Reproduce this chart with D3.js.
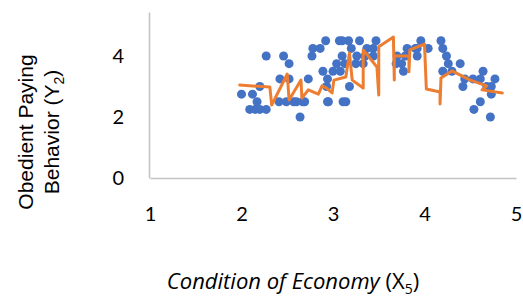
<!DOCTYPE html>
<html>
<head>
<meta charset="utf-8">
<script src="https://cdn.jsdelivr.net/npm/d3@7"></script>
<style>
  html, body { margin: 0; padding: 0; background: #fff; }
  svg { display: block; }
</style>
</head>
<body>
<div id="chart"></div>
<script>
// observed points: Condition of Economy (X5) vs Obedient Paying Behavior (Y2)
const obsX = [2.00, 2.12, 2.20, 2.17, 2.09, 2.15, 2.20, 2.27, 2.27, 2.46, 2.52, 2.42, 2.52, 2.41, 2.49,
              2.57, 2.69, 2.64, 2.73, 2.78, 2.86, 2.92, 2.77, 2.89, 2.94, 2.94, 3.00, 3.04, 2.93, 3.07,
              3.10, 3.17, 3.29, 3.47, 3.20, 3.37, 3.44, 3.10, 3.26, 3.35, 3.13, 3.25, 3.33, 3.08, 3.11,
              3.14, 3.18, 3.96, 4.18, 3.81, 3.90, 4.04, 4.20, 3.70, 3.79, 3.92, 4.24, 3.69, 3.75, 4.26,
              4.39, 3.77, 4.20, 4.30, 4.44, 4.53, 4.64, 4.61, 4.77, 4.68, 4.73, 4.42, 4.73, 4.61, 4.54,
              4.72, 2.60, 2.67, 2.95, 3.44, 3.92];
const obsY = [2.75, 2.75, 3.00, 2.50, 2.25, 2.25, 2.25, 2.25, 4.00, 4.00, 3.75, 3.25, 3.25, 2.50, 2.50,
              2.50, 2.50, 2.00, 3.25, 4.25, 4.25, 4.50, 4.00, 3.50, 3.25, 2.50, 3.50, 3.75, 3.00, 4.50,
              4.50, 4.50, 4.50, 4.50, 4.25, 4.25, 4.25, 4.00, 4.00, 4.00, 3.75, 3.75, 3.75, 3.50, 2.50,
              2.50, 3.00, 4.50, 4.50, 4.25, 4.25, 4.25, 4.25, 4.00, 4.00, 4.00, 4.00, 3.75, 3.75, 3.75,
              3.75, 3.50, 3.50, 3.50, 3.25, 3.25, 3.50, 3.25, 3.25, 3.00, 3.00, 3.00, 2.75, 2.50, 2.25,
              2.00, 2.50, 2.50, 2.50, 4.00, 4.25];

// fitted values, in data order
const fitX = [1.98, 2.31, 2.33, 2.50, 2.52, 2.65, 2.66, 2.73, 2.84, 2.88, 2.93, 2.99, 3.01, 3.14, 3.18,
              3.21, 3.33, 3.33, 3.48, 3.50, 3.50, 3.66, 3.67, 3.67, 3.83, 3.83, 3.84, 4.00, 4.02, 4.17,
              4.17, 4.18, 4.30, 4.50, 4.68, 4.63, 4.85];
const fitY = [3.05, 2.98, 2.39, 3.41, 2.56, 3.21, 2.62, 2.89, 2.75, 3.02, 2.95, 2.79, 3.21, 3.31, 4.10,
              3.21, 2.95, 4.20, 3.64, 2.72, 4.30, 4.62, 3.21, 4.00, 4.00, 3.48, 4.20, 4.39, 2.92, 2.82,
              2.43, 3.28, 3.51, 3.21, 3.02, 2.89, 2.79];

const xTicks = [1, 2, 3, 4, 5];
const yTicks = [0, 2, 4];

const width = 523;
const height = 297;
const font = 'Lato, "Open Sans", sans-serif';

const svg = d3.select('#chart')
    .append('svg')
    .attr('width', width)
    .attr('height', height);

const x = d3.scaleLinear().domain([1, 5]).range([150, 516]);
const y = d3.scaleLinear().domain([0, 5.443]).range([178, 12]);

// axes
const xAxis = svg.append('g')
    .attr('transform', `translate(0, ${y(0)})`)
    .call(d3.axisBottom(x).tickValues(xTicks).tickSize(0).tickPadding(29).tickFormat(d3.format('d')));

const yAxis = svg.append('g')
    .attr('transform', `translate(${x(1) - 1}, 0)`)
    .call(d3.axisLeft(y).tickValues(yTicks).tickSize(0).tickPadding(25).tickFormat(d3.format('d')));

[xAxis, yAxis].forEach(g => {
    g.select('.domain')
        .attr('stroke', '#C4C4C4')
        .attr('stroke-width', 1.6);
    g.selectAll('text')
        .attr('fill', '#000')
        .style('font-family', font)
        .style('font-size', '20px');
});

// observed scatter
svg.append('g')
    .selectAll('circle')
    .data(obsX.map((v, i) => [v, obsY[i]]))
    .enter()
    .append('circle')
    .attr('cx', d => x(d[0]))
    .attr('cy', d => y(d[1]))
    .attr('r', 4.5)
    .attr('fill', '#4472C4');

// fitted line
const line = d3.line()
    .x(d => x(d[0]))
    .y(d => y(d[1]));

svg.append('path')
    .datum(fitX.map((v, i) => [v, fitY[i]]))
    .attr('d', line)
    .attr('fill', 'none')
    .attr('stroke', '#ED7D31')
    .attr('stroke-width', 3)
    .attr('stroke-linejoin', 'round')
    .attr('stroke-linecap', 'round');

// y axis title (two lines)
const yTitle = svg.append('text')
    .attr('transform', 'translate(0, 132) rotate(-90)')
    .attr('text-anchor', 'middle')
    .style('font-family', '"Liberation Sans", Arial, sans-serif')
    .style('font-size', '21px')
    .attr('fill', '#000');

yTitle.append('tspan')
    .attr('x', 0)
    .attr('y', 33)
    .text('Obedient Paying');

const line2 = yTitle.append('tspan')
    .attr('x', 0)
    .attr('y', 59)
    .text('Behavior (Y');
line2.append('tspan')
    .attr('dy', 5)
    .style('font-size', '14px')
    .text('2');
line2.append('tspan')
    .attr('dy', -5)
    .text(')');

// x axis title
const xTitle = svg.append('text')
    .attr('x', 293)
    .attr('y', 289)
    .attr('text-anchor', 'middle')
    .style('font-family', '"Open Sans", Lato, sans-serif')
    .style('font-size', '22px')
    .attr('fill', '#000');

xTitle.append('tspan')
    .style('font-style', 'italic')
    .text('Condition of Economy');
xTitle.append('tspan').text(' (X');
xTitle.append('tspan')
    .attr('dy', 5)
    .style('font-size', '14px')
    .text('5');
xTitle.append('tspan')
    .attr('dy', -5)
    .text(')');
</script>
</body>
</html>
